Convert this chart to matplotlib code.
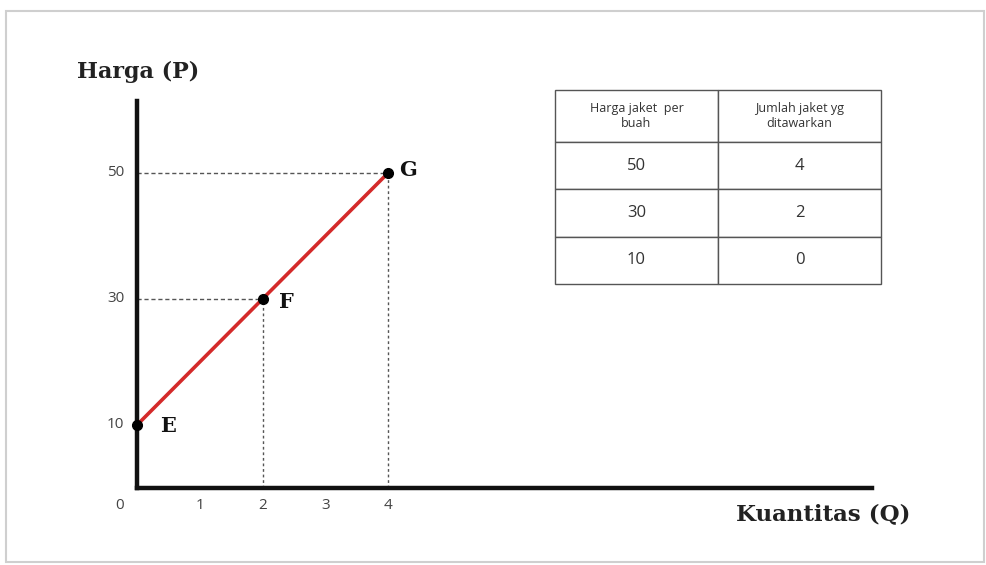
import matplotlib
matplotlib.use("Agg")
import matplotlib.pyplot as plt
from matplotlib.patches import Rectangle

# Data
quantity = [0, 2, 4]
price = [10, 30, 50]
point_labels = ["E", "F", "G"]
x_ticks = [0, 1, 2, 3, 4]
y_ticks = [10, 30, 50]
table_header = ["Harga jaket  per\nbuah", "Jumlah jaket yg\nditawarkan"]
table_rows = [["50", "4"], ["30", "2"], ["10", "0"]]

W, H = 986, 565
fig = plt.figure(figsize=(W / 100, H / 100), dpi=100)
fig.patch.set_facecolor("white")

def fx(px):
    return px / W

def fy(py):
    return 1 - py / H

# outer light frame
frame = Rectangle((fx(6), fy(562)), fx(978), 551 / H, transform=fig.transFigure,
                  fill=False, edgecolor="#cfcfcf", linewidth=1.5)
fig.patches.append(frame)

# main axes
x0, x1 = 137, 872
y0, y1 = 488, 101
unit_x = (388 - 137) / 4
unit_y = (425 - 173) / 40
ax = fig.add_axes([fx(x0), fy(y0), (x1 - x0) / W, (y0 - y1) / H])
ax.set_xlim(0, (x1 - x0) / unit_x)
ax.set_ylim(0, (y0 - y1) / unit_y)
for s in ["top", "right"]:
    ax.spines[s].set_visible(False)
for s in ["left", "bottom"]:
    ax.spines[s].set_linewidth(3.2)
    ax.spines[s].set_color("#111111")
ax.set_xticks([])
ax.set_yticks([])
ax.patch.set_alpha(0)

# dashed guide lines
for q, p in zip(quantity[1:], price[1:]):
    ax.plot([0, q], [p, p], linestyle=(0, (3, 2)), color="#555555", linewidth=1.0)
    ax.plot([q, q], [0, p], linestyle=(0, (2, 2)), color="#555555", linewidth=1.0)

# supply line
ax.plot(quantity, price, color="#d42a2a", linewidth=2.6, solid_capstyle="butt", zorder=3)
ax.plot(quantity, price, "o", color="black", markersize=7, zorder=4, clip_on=False)

label_offsets = {"E": (0.5, -0.2), "F": (0.38, -0.4), "G": (0.32, 0.5)}
for q, p, lab in zip(quantity, price, point_labels):
    dx, dy = label_offsets[lab]
    ax.text(q + dx, p + dy, lab, fontsize=15, fontweight="bold", family="DejaVu Serif",
            ha="center", va="center", color="#111111")

# tick labels
tick_font = dict(fontsize=11, color="#444444", family="Open Sans")
for t in x_ticks:
    xoff = -0.27 if t == 0 else 0.0
    ax.text(t + xoff, -2.8, str(t), ha="center", va="center", **tick_font)
for t in y_ticks:
    ax.text(-0.2, t, str(t), ha="right", va="center", **tick_font)

# axis titles
fig.text(fx(77), fy(72), "Harga (P)", fontsize=16, fontweight="bold",
         family="DejaVu Serif", color="#222222", ha="left", va="center")
fig.text(fx(736), fy(514), "Kuantitas (Q)", fontsize=16.5, fontweight="bold",
         family="DejaVu Serif", color="#222222", ha="left", va="center")

# table
tx0, tx1, ty0, ty1 = 555, 881, 90, 284
tax = fig.add_axes([fx(tx0), fy(ty1), (tx1 - tx0) / W, (ty1 - ty0) / H])
tax.axis("off")
tbl = tax.table(cellText=table_rows, colLabels=table_header, cellLoc="center",
                bbox=[0, 0, 1, 1])
tbl.auto_set_font_size(False)
header_h = 52 / 194
row_h = (1 - header_h) / 3
for (r, c), cell in tbl.get_celld().items():
    cell.set_edgecolor("#555555")
    cell.set_linewidth(1.0)
    if r == 0:
        cell.set_height(header_h)
        cell.get_text().set_fontsize(9)
    else:
        cell.set_height(row_h)
        cell.get_text().set_fontsize(12)
    cell.get_text().set_color("#333333")
    cell.get_text().set_family("Open Sans")

fig.savefig("out.png", dpi=100, facecolor="white")
